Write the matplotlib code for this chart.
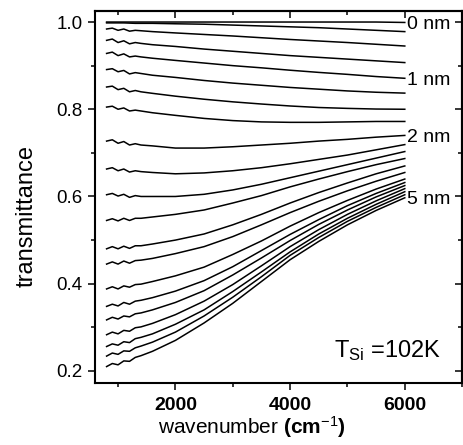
import matplotlib
matplotlib.use("Agg")
import matplotlib.pyplot as plt
from matplotlib.ticker import MultipleLocator

# wavenumber grid (cm-1) shared by all spectra
wavenumber = [800, 900, 1000, 1100, 1200, 1300, 1400, 1600, 2000,
              2500, 3000, 3500, 4000, 4500, 5000, 5500, 6000]

# transmittance spectra, thinnest film first
curve_00 = [1.000, 1.000, 1.000, 1.000, 1.000, 1.000, 1.000, 1.000, 1.000,
            1.000, 1.000, 1.000, 1.000, 1.000, 1.000, 1.000, 0.999]
curve_01 = [.998, .998, .998, .998, .9975, .997, .997, .997, .996,
            .995, .993, .991, .989, .987, .984, .981, .978]
curve_02 = [.984, .986, .981, .984, .979, .981, .980, .978, .975,
            .9715, .968, .964, .960, .9565, .953, .949, .945]
curve_03 = [.958, .961, .953, .957, .950, .953, .951, .948, .944,
            .938, .933, .928, .923, .919, .915, .911, .907]
curve_04 = [.928, .931, .923, .927, .920, .922, .920, .917, .912,
            .906, .900, .895, .8895, .8845, .880, .875, .871]
curve_05 = [.891, .893, .886, .889, .881, .884, .882, .878, .873,
            .866, .860, .855, .850, .846, .842, .839, .837]
curve_06 = [.851, .853, .845, .848, .840, .843, .840, .8365, .830,
            .823, .817, .812, .8075, .804, .802, .8005, .800]
curve_07 = [.805, .807, .800, .803, .796, .798, .796, .792, .786,
            .779, .774, .771, .770, .770, .771, .772, .772]
curve_08 = [.727, .730, .722, .726, .718, .721, .718, .716, .711,
            .711, .714, .718, .722, .727, .731, .736, .740]
curve_09 = [.663, .666, .659, .663, .656, .659, .657, .655, .652,
            .654, .659, .666, .675, .685, .695, .707, .719]
curve_10 = [.604, .607, .601, .605, .598, .602, .600, .600, .600,
            .605, .615, .628, .643, .658, .673, .688, .703]
curve_11 = [.545, .549, .544, .550, .545, .550, .550, .553, .559,
            .569, .585, .602, .622, .640, .657, .673, .687]
curve_12 = [.480, .485, .480, .486, .481, .487, .487, .491, .500,
            .514, .535, .559, .585, .609, .631, .652, .670]
curve_13 = [.445, .450, .445, .452, .447, .453, .454, .458, .469,
            .485, .508, .535, .563, .589, .613, .635, .655]
curve_14 = [.388, .393, .388, .395, .392, .398, .399, .405, .418,
            .438, .467, .498, .532, .563, .591, .617, .640]
curve_15 = [.348, .353, .349, .357, .353, .360, .362, .368, .383,
            .407, .439, .476, .513, .547, .579, .607, .632]
curve_16 = [.317, .323, .319, .326, .324, .331, .333, .340, .357,
            .384, .420, .459, .499, .536, .569, .599, .625]
curve_17 = [.283, .289, .285, .293, .291, .299, .301, .309, .329,
            .360, .398, .441, .485, .524, .559, .590, .618]
curve_18 = [.256, .262, .259, .267, .265, .274, .277, .285, .307,
            .340, .382, .427, .473, .514, .550, .582, .611]
curve_19 = [.234, .241, .238, .246, .245, .253, .257, .266, .289,
            .326, .369, .416, .465, .506, .543, .575, .604]
curve_20 = [.210, .217, .214, .223, .222, .231, .235, .245, .270,
            .310, .355, .405, .455, .497, .535, .568, .597]

curves = [curve_00, curve_01, curve_02, curve_03, curve_04, curve_05,
          curve_06, curve_07, curve_08, curve_09, curve_10, curve_11,
          curve_12, curve_13, curve_14, curve_15, curve_16, curve_17,
          curve_18, curve_19, curve_20]

# thickness labels and the curve each one sits on
thickness_labels = ["0 nm", "1 nm", "2 nm", "5 nm"]
thickness_curve = [0, 4, 8, 20]

x_ticks = [2000, 4000, 6000]
x_tick_labels = ["2000", "4000", "6000"]

plt.rcParams['font.family'] = ['Liberation Sans', 'DejaVu Sans']
plt.rcParams['mathtext.fontset'] = 'custom'
plt.rcParams['mathtext.rm'] = 'Liberation Sans'
plt.rcParams['mathtext.bf'] = 'Liberation Sans:bold'
plt.rcParams['mathtext.it'] = 'Liberation Sans:italic'

fig = plt.figure(figsize=(4.64, 4.45), dpi=100)
ax = fig.add_axes([0.205, 0.139, 0.791, 0.836])

for c in curves:
    ax.plot(wavenumber, c, color='black', lw=1.1)

for label, idx in zip(thickness_labels, thickness_curve):
    ax.text(6040, curves[idx][-1], label, fontsize=14,
            ha='left', va='center_baseline')

ax.text(4771, 0.232, r"T$_{\rm Si}$ =102K", fontsize=17,
        ha='left', va='baseline')

ax.set_xlim(600, 7000)
ax.set_ylim(0.172, 1.025)

ax.set_xticks(x_ticks)
ax.set_xticklabels(x_tick_labels, fontweight='bold', fontsize=14)
ax.xaxis.set_minor_locator(MultipleLocator(1000))
ax.yaxis.set_major_locator(MultipleLocator(0.2))
ax.yaxis.set_minor_locator(MultipleLocator(0.1))
ax.tick_params(axis='y', labelsize=13.5, pad=4)
ax.tick_params(axis='x', pad=5)
ax.tick_params(which='both', direction='out', width=1.1)
ax.tick_params(which='major', length=5)
ax.tick_params(which='minor', length=3)

for s in ax.spines.values():
    s.set_linewidth(1.5)

# mirrored ticks pointing inward on top and right
top = ax.secondary_xaxis('top')
top.xaxis.set_major_locator(MultipleLocator(2000))
top.xaxis.set_minor_locator(MultipleLocator(1000))
top.tick_params(which='both', direction='in', labeltop=False, width=1.1)
top.tick_params(which='major', length=5)
top.tick_params(which='minor', length=3)
top.spines['top'].set_linewidth(1.5)

right = ax.secondary_yaxis('right')
right.yaxis.set_major_locator(MultipleLocator(0.2))
right.yaxis.set_minor_locator(MultipleLocator(0.1))
right.tick_params(which='both', direction='in', labelright=False, width=1.1)
right.tick_params(which='major', length=5)
right.tick_params(which='minor', length=3)
right.spines['right'].set_linewidth(1.5)

ax.set_ylabel("transmittance", fontsize=17)
ax.yaxis.set_label_coords(-0.158, 0.45)
ax.set_xlabel(r"wavenumber $\mathbf{(cm}^{-1}\mathbf{)}$", fontsize=15, va='top')
ax.xaxis.set_label_coords(0.428, -0.084)

fig.savefig("out.png", dpi=100)
